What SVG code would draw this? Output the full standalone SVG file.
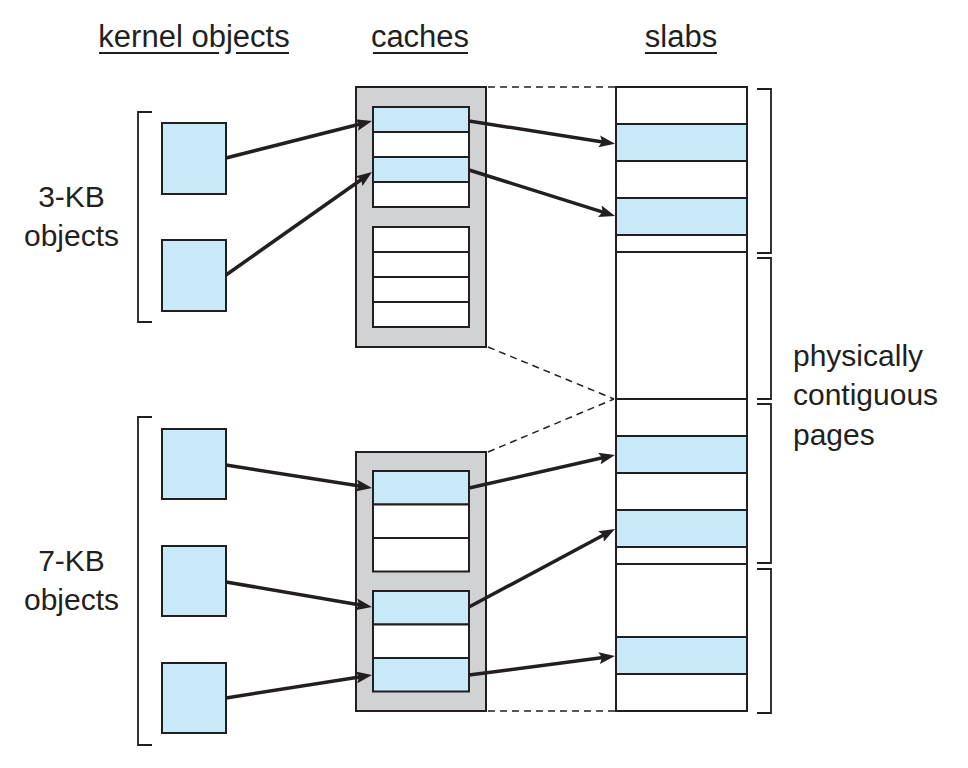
<svg xmlns="http://www.w3.org/2000/svg" width="968" height="768" viewBox="0 0 968 768">
<defs>
<style>
text{font-family:"Liberation Sans",Arial,sans-serif;fill:#231f20}
.h{font-size:31px}
.t{font-size:30px}
.ul{stroke:#231f20;stroke-width:2;fill:none}
.obj{fill:#c7e9f8;stroke:#231f20;stroke-width:2}
.cache{fill:#d1d2d4;stroke:#231f20;stroke-width:2}
.w{fill:#fff;stroke:#231f20;stroke-width:2}
.b{fill:#c7e9f8;stroke:#231f20;stroke-width:2}
.br{fill:none;stroke:#231f20;stroke-width:1.8}
.dash{fill:none;stroke:#231f20;stroke-width:1.5;stroke-dasharray:7,5}
.arr{fill:none;stroke:#231f20;stroke-width:3.5;marker-end:url(#ah)}
</style>
<marker id="ah" viewBox="0 0 16 12" refX="10" refY="6" markerWidth="16" markerHeight="12" markerUnits="userSpaceOnUse" orient="auto">
<path d="M0,0 L16,6 L0,12 L3,6 z" fill="#231f20"/>
</marker>
</defs>
<rect width="968" height="768" fill="#fff"/>

<g id="headers">
<text class="h" x="194" y="47" text-anchor="middle">kernel objects</text>
<path class="ul" d="M99,53H219M236,53H289"/>
<text class="h" x="420" y="47" text-anchor="middle">caches</text>
<path class="ul" d="M373,53H468"/>
<text class="h" x="681" y="47" text-anchor="middle">slabs</text>
<path class="ul" d="M645,53H717"/>
</g>

<g id="label-3kb">
<text class="t" x="71.5" y="207" text-anchor="middle">3-KB</text>
<text class="t" x="71.5" y="246" text-anchor="middle">objects</text>
<path class="br" d="M152,112H138V322H152"/>
</g>
<g id="label-7kb">
<text class="t" x="71.5" y="571" text-anchor="middle">7-KB</text>
<text class="t" x="71.5" y="610" text-anchor="middle">objects</text>
<path class="br" d="M152,417H138V745H152"/>
</g>
<g id="label-pages">
<text class="t" x="793" y="366">physically</text>
<text class="t" x="793" y="405">contiguous</text>
<text class="t" x="793" y="445">pages</text>
</g>

<g id="objects">
<rect id="obj1" class="obj" x="162" y="123" width="64" height="71"/>
<rect id="obj2" class="obj" x="162" y="240" width="64" height="71"/>
<rect id="obj3" class="obj" x="162" y="429" width="64" height="70"/>
<rect id="obj4" class="obj" x="162" y="546" width="64" height="70"/>
<rect id="obj5" class="obj" x="162" y="663" width="64" height="70"/>
</g>

<g id="cache1">
<rect class="cache" x="356" y="87" width="130" height="260"/>
<rect class="b" x="373" y="107" width="96" height="25"/>
<rect class="w" x="373" y="132" width="96" height="25"/>
<rect class="b" x="373" y="157" width="96" height="25"/>
<rect class="w" x="373" y="182" width="96" height="25"/>
<rect class="w" x="373" y="227" width="96" height="25"/>
<rect class="w" x="373" y="252" width="96" height="25"/>
<rect class="w" x="373" y="277" width="96" height="25"/>
<rect class="w" x="373" y="302" width="96" height="25"/>
</g>

<g id="cache2">
<rect class="cache" x="356" y="452" width="130" height="259"/>
<rect class="b" x="373" y="471" width="96" height="33.5"/>
<rect class="w" x="373" y="504.5" width="96" height="33.5"/>
<rect class="w" x="373" y="538" width="96" height="33.5"/>
<rect class="b" x="373" y="591" width="96" height="33.5"/>
<rect class="w" x="373" y="624.5" width="96" height="33.5"/>
<rect class="b" x="373" y="658" width="96" height="33.5"/>
</g>

<g id="slab1">
<rect class="w" x="616" y="87" width="131" height="165"/>
<rect class="b" x="616" y="124" width="131" height="37"/>
<rect class="b" x="616" y="198" width="131" height="37"/>
</g>
<g id="slab2">
<rect class="w" x="616" y="252" width="131" height="147"/>
</g>
<g id="slab3">
<rect class="w" x="616" y="399" width="131" height="165"/>
<rect class="b" x="616" y="436" width="131" height="37"/>
<rect class="b" x="616" y="510" width="131" height="37"/>
</g>
<g id="slab4">
<rect class="w" x="616" y="564" width="131" height="147"/>
<rect class="b" x="616" y="637" width="131" height="37"/>
</g>

<g id="page-brackets">
<path class="br" d="M757,89H771V253H757"/>
<path class="br" d="M757,258H771V399H757"/>
<path class="br" d="M757,404H771V563H757"/>
<path class="br" d="M757,569H771V713H757"/>
</g>

<g id="connectors">
<path class="dash" d="M488,87H615"/>
<path class="dash" d="M488,347L614,399"/>
<path class="dash" d="M488,452L614,399"/>
<path class="dash" d="M488,711H615"/>
<line class="arr" x1="226" y1="158" x2="366.2" y2="122.5"/>
<line class="arr" x1="226" y1="275" x2="367.1" y2="175.5"/>
<line class="arr" x1="469" y1="121" x2="609.1" y2="142.9"/>
<line class="arr" x1="469" y1="170" x2="609.3" y2="214.2"/>
<line class="arr" x1="226" y1="465" x2="366.1" y2="487.1"/>
<line class="arr" x1="226" y1="582" x2="366.1" y2="606"/>
<line class="arr" x1="226" y1="698" x2="366.1" y2="675.9"/>
<line class="arr" x1="469" y1="488" x2="609.1" y2="456.3"/>
<line class="arr" x1="469" y1="607" x2="609.7" y2="531.8"/>
<line class="arr" x1="469" y1="675" x2="609" y2="656.8"/>
</g>
</svg>
